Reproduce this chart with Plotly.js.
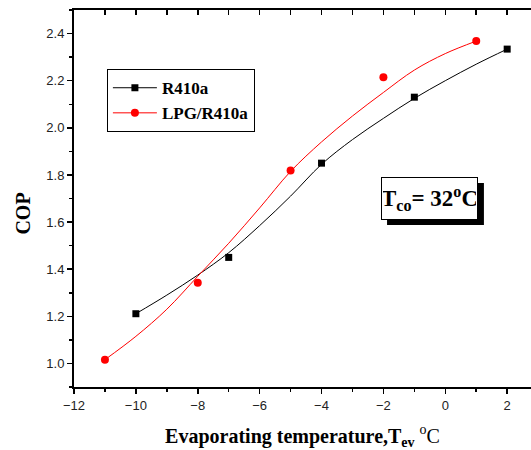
<!DOCTYPE html>
<html>
<head>
<meta charset="utf-8">
<script src="https://cdn.plot.ly/plotly-3.0.1.min.js"></script>
<style>html,body{margin:0;padding:0;background:#fff;}#chart{width:531px;height:450px;}</style>
</head>
<body>
<div id="chart"></div>
<script>
// Measured data points
const tempR410a = [-10, -7, -4, -1, 2];
const copR410a = [1.211, 1.45, 1.85, 2.13, 2.334];
const tempLPG = [-11, -8, -5, -2, 1];
const copLPG = [1.016, 1.342, 1.819, 2.215, 2.368];

// Fitted curves
const fitTempR410a = [-10, -9, -8, -7, -6, -5, -4, -3, -2, -1, 0, 1, 2];
const fitCopR410a = [1.211, 1.29, 1.375, 1.47, 1.585, 1.71, 1.845, 1.95, 2.04, 2.125, 2.2, 2.27, 2.334];
const fitTempLPG = [-11, -10, -9, -8, -7, -6, -5, -4, -3, -2, -1, 0, 1];
const fitCopLPG = [1.016, 1.115, 1.23, 1.37, 1.51, 1.66, 1.815, 1.94, 2.05, 2.15, 2.245, 2.315, 2.368];

const seriesNames = ['<b>R410a</b>', '<b>LPG/R410a</b>'];
const xTitle = '<b>Evaporating temperature,T<sub>ev</sub></b> <sup>o</sup>C';
const yTitle = '<b>COP</b>&nbsp;&nbsp;&nbsp;&nbsp;&nbsp;&nbsp;';
const noteText = '<b>T<sub>co</sub>= 32<sup>o</sup>C</b>';

const serif = 'Liberation Serif, Times New Roman, serif';
const sans = 'Liberation Sans, Arial, sans-serif';

const traces = [
  {x: fitTempR410a, y: fitCopR410a, mode: 'lines', line: {color: '#000', width: 1, shape: 'spline', smoothing: 1}, showlegend: false, hoverinfo: 'skip'},
  {x: fitTempLPG, y: fitCopLPG, mode: 'lines', line: {color: '#ff0000', width: 1, shape: 'spline', smoothing: 1}, showlegend: false, hoverinfo: 'skip'},
  {x: tempR410a, y: copR410a, mode: 'markers', marker: {symbol: 'square', size: 7, color: '#000'}, showlegend: false},
  {x: tempLPG, y: copLPG, mode: 'markers', marker: {symbol: 'circle', size: 8, color: '#ff0000'}, showlegend: false},
  {x: [null], y: [null], mode: 'lines+markers', name: seriesNames[0], line: {color: '#000', width: 1}, marker: {symbol: 'square', size: 7, color: '#000'}},
  {x: [null], y: [null], mode: 'lines+markers', name: seriesNames[1], line: {color: '#ff0000', width: 1}, marker: {symbol: 'circle', size: 8, color: '#ff0000'}},
  {x: [null], y: [null], xaxis: 'x2', mode: 'markers', showlegend: false, hoverinfo: 'skip'}
];

const layout = {
  width: 531, height: 450,
  margin: {l: 74, r: 0, t: 10, b: 63},
  paper_bgcolor: '#fff', plot_bgcolor: '#fff',
  showlegend: true,
  xaxis: {
    range: [-12, 2.77], tickmode: 'linear', tick0: -12, dtick: 2,
    ticks: 'outside', ticklen: 5, tickwidth: 1.5, tickcolor: '#000',
    minor: {dtick: 1, ticks: 'outside', ticklen: 3, tickwidth: 1.5, tickcolor: '#000', showgrid: false},
    showline: true, linecolor: '#000', linewidth: 2, showgrid: false, zeroline: false,
    tickfont: {family: sans, size: 13, color: '#222'},
    title: {text: xTitle, font: {family: serif, size: 20, color: '#000'}, standoff: 17}
  },
  xaxis2: {
    overlaying: 'x', side: 'top', range: [-12, 2.77], tickmode: 'linear', tick0: -12, dtick: 2,
    ticks: 'inside', ticklen: 5, tickwidth: 1.5, tickcolor: '#000',
    minor: {dtick: 1, ticks: 'inside', ticklen: 5, tickwidth: 1.5, tickcolor: '#000', showgrid: false},
    showline: true, linecolor: '#000', linewidth: 2, showgrid: false, zeroline: false, showticklabels: false
  },
  yaxis: {
    range: [0.9, 2.5], tickmode: 'linear', tick0: 1.0, dtick: 0.2, tickformat: '.1f',
    ticks: 'outside', ticklen: 5, tickwidth: 1.5, tickcolor: '#000',
    minor: {dtick: 0.1, ticks: 'outside', ticklen: 3, tickwidth: 1.5, tickcolor: '#000', showgrid: false},
    showline: true, linecolor: '#000', linewidth: 2, showgrid: false, zeroline: false,
    tickfont: {family: sans, size: 13, color: '#222'},
    title: {text: yTitle, font: {family: serif, size: 20, color: '#000'}, standoff: 10}
  },
  legend: {
    x: 0.072, y: 0.843, xanchor: 'left', yanchor: 'top',
    bgcolor: '#fff', bordercolor: '#000', borderwidth: 1,
    font: {family: serif, size: 17, color: '#000'},
    tracegroupgap: 0, itemwidth: 44
  },
  shapes: [
    {type: 'rect', xref: 'paper', yref: 'paper', x0: 0.685, x1: 0.897, y0: 0.430, y1: 0.541, fillcolor: '#000', line: {width: 0}, layer: 'above'}
  ],
  annotations: [
    {xref: 'paper', yref: 'paper', x: 0.777, y: 0.501, xanchor: 'center', yanchor: 'middle',
     text: noteText, showarrow: false, font: {family: serif, size: 23, color: '#000'},
     bgcolor: '#fff', bordercolor: '#000', borderwidth: 1, width: 93, height: 39}
  ]
};

Plotly.newPlot('chart', traces, layout, {displayModeBar: false, staticPlot: true});
</script>
</body>
</html>
